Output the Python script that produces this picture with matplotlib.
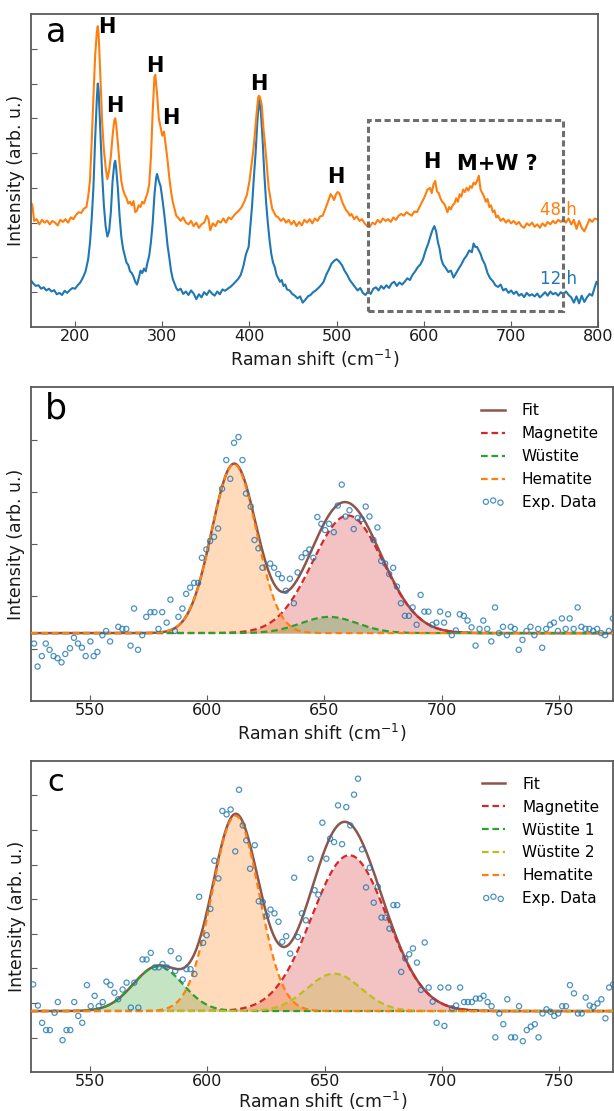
import numpy as np
import matplotlib
matplotlib.use("Agg")
import matplotlib.pyplot as plt
from matplotlib.patches import Rectangle

# ---------------- Panel a: Raman spectra (x cm^-1, intensity arb.) ----------------
spec_12h = [
    (150, 0.32), (152, 0.25), (155, 0.18), (158, 0.2), (161, 0.1), (164, 0.14), (167, 0.05), (170, 0.1),
    (173, 0.02), (176, 0.06), (179, -0.06), (182, -0.02), (185, -0.08), (188, 0.04), (191, -0.02), (194, 0.06),
    (197, 0.12), (200, 0.1), (203, 0.2), (206, 0.28), (209, 0.42), (212, 0.6), (215, 0.95), (217, 1.4),
    (219, 2.1), (221, 3.0), (223, 4.4), (225, 5.6), (226, 6.0), (227, 5.8), (229, 4.6), (231, 3.4),
    (233, 2.5), (235, 1.9), (237, 1.6), (239, 1.75), (241, 2.3), (243, 3.2), (245, 3.7), (246, 3.78),
    (247, 3.6), (249, 3.0), (251, 2.2), (253, 1.6), (255, 1.25), (257, 1.05), (259, 0.85), (261, 0.78),
    (263, 0.6), (265, 0.55), (267, 0.45), (269, 0.3), (271, 0.22), (273, 0.4), (275, 0.62), (277, 0.55),
    (279, 0.68), (281, 0.6), (283, 0.85), (285, 1.05), (287, 1.45), (289, 2.0), (291, 2.8), (293, 3.3),
    (294, 3.4), (296, 3.2), (298, 3.05), (300, 2.7), (302, 2.3), (304, 1.85), (306, 1.35), (308, 1.0),
    (310, 0.62), (312, 0.38), (314, 0.25), (316, 0.12), (318, 0.05), (321, 0.1), (324, -0.05), (327, 0.02),
    (330, -0.08), (333, 0.05), (336, -0.04), (339, -0.2), (342, -0.06), (345, -0.15), (348, 0.0), (351, -0.08),
    (354, 0.05), (357, -0.04), (360, -0.1), (363, 0.02), (366, -0.06), (369, 0.08), (372, 0.04), (375, 0.1),
    (378, 0.15), (381, 0.22), (384, 0.3), (387, 0.38), (390, 0.5), (393, 0.75), (396, 1.1), (399, 1.3),
    (401, 1.9), (403, 2.5), (405, 3.3), (407, 4.0), (409, 4.9), (411, 5.55), (413, 5.2), (415, 4.4),
    (417, 3.4), (419, 2.6), (421, 2.0), (423, 1.5), (425, 1.1), (427, 0.85), (429, 0.72), (431, 0.5),
    (433, 0.4), (435, 0.3), (437, 0.35), (439, 0.18), (441, 0.22), (443, 0.08), (446, 0.05), (449, -0.05),
    (452, -0.1), (455, -0.18), (458, -0.12), (461, -0.3), (464, -0.22), (467, -0.12), (470, -0.08), (473, 0.0),
    (476, 0.05), (479, 0.12), (482, 0.2), (485, 0.3), (488, 0.5), (491, 0.65), (494, 0.82), (497, 0.9),
    (500, 0.95), (503, 0.88), (506, 0.78), (509, 0.62), (512, 0.5), (515, 0.35), (518, 0.25), (521, 0.15),
    (524, 0.05), (527, 0.12), (530, -0.02), (533, -0.08), (536, 0.02), (539, -0.05), (542, 0.1), (545, 0.14),
    (548, 0.05), (551, 0.18), (554, 0.1), (557, 0.2), (560, 0.12), (563, 0.25), (566, 0.3), (569, 0.18),
    (572, 0.28), (575, 0.22), (578, 0.3), (581, 0.4), (584, 0.35), (587, 0.5), (590, 0.6), (593, 0.72),
    (596, 0.8), (599, 0.95), (602, 1.2), (605, 1.4), (608, 1.65), (610, 1.8), (612, 1.9), (614, 1.75),
    (616, 1.45), (618, 1.25), (620, 0.95), (622, 0.8), (625, 0.7), (628, 0.58), (631, 0.62), (634, 0.42),
    (637, 0.55), (640, 0.68), (643, 0.8), (646, 0.95), (649, 1.05), (652, 1.2), (655, 1.15), (657, 1.4),
    (659, 1.3), (661, 1.3), (663, 1.2), (665, 1.1), (667, 0.95), (670, 0.8), (673, 0.55), (676, 0.4),
    (679, 0.32), (682, 0.2), (685, 0.15), (688, 0.22), (691, 0.05), (694, 0.1), (697, -0.02), (700, 0.05),
    (703, -0.05), (706, 0.02), (709, -0.1), (712, -0.05), (715, -0.14), (718, -0.02), (721, -0.1), (724, -0.06),
    (727, -0.12), (730, -0.04), (733, -0.15), (736, -0.08), (739, 0.0), (742, -0.1), (745, 0.02), (748, -0.06),
    (751, -0.02), (754, -0.1), (757, 0.0), (760, -0.06), (763, 0.02), (766, -0.08), (769, -0.15), (772, -0.3),
    (775, -0.12), (778, -0.32), (781, -0.1), (784, -0.28), (787, -0.15), (790, -0.05), (793, -0.1), (796, 0.15),
    (798, 0.3), (800, 0.2),
]

spec_48h = [
    (150, 2.55), (151, 2.5), (153, 2.05), (156, 2.1), (159, 1.95), (162, 2.08), (165, 2.0), (168, 2.06),
    (171, 1.95), (174, 2.05), (177, 2.0), (180, 1.92), (183, 2.08), (186, 2.02), (189, 2.1), (192, 2.0),
    (195, 2.15), (198, 2.1), (201, 2.22), (204, 2.3), (207, 2.28), (210, 2.4), (213, 2.45), (215, 2.75),
    (217, 3.2), (219, 4.3), (221, 5.6), (223, 6.8), (225, 7.5), (226, 7.65), (227, 7.4), (229, 6.2),
    (231, 4.9), (233, 4.1), (235, 3.6), (237, 3.25), (239, 3.5), (241, 3.9), (243, 4.5), (245, 4.95),
    (246, 5.0), (247, 4.85), (249, 4.3), (251, 3.7), (253, 3.2), (255, 2.95), (257, 2.8), (259, 2.7),
    (261, 2.55), (263, 2.6), (265, 2.5), (267, 2.62), (269, 2.3), (271, 2.35), (273, 2.5), (275, 2.45),
    (277, 2.6), (279, 2.55), (281, 2.7), (283, 2.85), (285, 3.1), (287, 3.9), (289, 5.2), (291, 6.2),
    (292, 6.25), (294, 5.7), (296, 5.0), (298, 4.75), (300, 4.5), (302, 4.62), (304, 4.2), (306, 3.8),
    (308, 3.3), (310, 2.9), (312, 2.6), (314, 2.4), (316, 2.2), (318, 2.15), (321, 2.05), (324, 2.15),
    (327, 2.0), (330, 1.95), (333, 2.05), (336, 1.9), (339, 2.0), (342, 1.85), (345, 1.95), (348, 2.0),
    (351, 2.2), (353, 2.1), (355, 1.78), (358, 1.98), (361, 1.9), (364, 2.05), (367, 2.0), (370, 2.12),
    (373, 2.0), (376, 2.15), (379, 2.1), (382, 2.2), (385, 2.28), (388, 2.35), (391, 2.45), (394, 2.6),
    (397, 2.8), (400, 3.2), (402, 3.6), (404, 4.0), (406, 4.5), (408, 5.1), (410, 5.6), (411, 5.65),
    (412, 5.6), (414, 5.4), (416, 4.7), (418, 4.2), (420, 3.6), (422, 3.0), (424, 2.7), (426, 2.4),
    (428, 2.3), (430, 2.2), (433, 2.15), (436, 2.05), (439, 2.12), (442, 2.0), (445, 2.08), (448, 1.95),
    (451, 2.05), (454, 1.9), (457, 2.02), (460, 1.92), (463, 2.08), (466, 2.0), (469, 2.1), (472, 1.98),
    (475, 2.12), (478, 2.05), (481, 2.18), (484, 2.2), (487, 2.4), (490, 2.6), (493, 2.82), (495, 2.75),
    (497, 2.65), (499, 2.8), (501, 2.88), (503, 2.85), (505, 2.7), (507, 2.55), (509, 2.45), (511, 2.35),
    (513, 2.3), (515, 2.2), (517, 2.25), (520, 2.1), (523, 2.18), (526, 2.05), (529, 2.1), (532, 1.98),
    (535, 1.9), (538, 1.88), (541, 2.0), (544, 1.95), (547, 2.08), (550, 2.0), (553, 2.12), (556, 2.05),
    (559, 2.1), (562, 2.02), (565, 2.15), (568, 2.08), (571, 2.2), (574, 2.25), (577, 2.2), (580, 2.3),
    (583, 2.25), (586, 2.2), (589, 2.32), (592, 2.3), (595, 2.45), (598, 2.6), (601, 2.75), (604, 2.95),
    (607, 3.0), (609, 2.85), (611, 3.1), (613, 3.2), (615, 2.9), (617, 2.85), (619, 2.7), (621, 2.6),
    (623, 2.55), (625, 2.45), (627, 2.3), (629, 2.45), (631, 2.38), (633, 2.5), (635, 2.55), (637, 2.7),
    (639, 2.6), (641, 2.82), (643, 2.75), (645, 2.95), (647, 2.88), (649, 3.0), (651, 2.92), (653, 3.05),
    (655, 3.0), (657, 3.15), (659, 3.1), (661, 3.2), (663, 3.35), (665, 2.95), (667, 2.85), (669, 2.75),
    (671, 2.6), (673, 2.68), (675, 2.45), (677, 2.5), (679, 2.3), (681, 2.35), (683, 2.15), (685, 2.2),
    (688, 2.05), (691, 2.12), (694, 2.0), (697, 2.08), (700, 1.98), (703, 2.05), (706, 1.95), (709, 2.02),
    (712, 1.9), (715, 1.85), (718, 1.98), (721, 1.92), (724, 2.0), (727, 1.88), (730, 1.95), (733, 1.85),
    (736, 1.98), (739, 1.9), (742, 2.02), (745, 1.95), (748, 2.05), (751, 1.98), (754, 2.08), (757, 2.02),
    (760, 2.1), (763, 2.0), (766, 2.12), (769, 1.95), (772, 2.08), (775, 1.82), (778, 2.05), (781, 1.85),
    (784, 1.75), (787, 1.92), (790, 2.1), (793, 2.02), (796, 2.12), (800, 2.08),
]

peak_labels = ["H", "H", "H", "H", "H", "H", "H", "M+W ?"]
peak_label_x = [236.2, 246.1, 291.4, 309.8, 410.3, 498.7, 608.7, 684.6]
peak_label_y = [7.64, 5.34, 6.51, 5.0, 5.99, 3.30, 3.73, 3.70]

# ---------------- Panel b: experimental points ----------------
data_b = [
    (526.3, 0.10), (527.8, -0.34), (529.6, -0.14), (531.3, 0.10), (532.9, -0.02), (534.6, -0.14),
    (536.3, -0.18), (538.0, -0.26), (539.6, -0.10), (541.6, 0.01), (543.3, 0.21), (545.0, 0.10),
    (546.7, 0.02), (548.3, -0.14), (550.3, 0.14), (551.7, -0.14), (553.3, -0.06), (555.4, 0.26),
    (557.0, 0.34), (558.7, 0.14), (562.2, 0.42), (563.9, 0.38), (565.6, 0.38), (567.4, 0.06),
    (568.9, 0.77), (570.6, -0.02), (572.4, 0.26), (574.1, 0.61), (575.9, 0.70), (577.6, 0.70),
    (579.3, 0.38), (580.9, 0.70), (582.8, 0.50), (584.4, 0.94), (586.3, 0.34), (587.8, 0.61),
    (589.5, 0.77), (591.1, 1.05), (592.8, 1.17), (594.5, 1.26), (596.2, 1.26), (597.8, 1.74),
    (599.7, 1.90), (601.3, 2.06), (603.0, 2.14), (604.7, 2.30), (606.4, 3.06), (608.2, 3.61),
    (609.9, 3.25), (611.5, 3.94), (613.4, 4.05), (615.1, 3.61), (616.6, 2.97), (618.6, 2.72),
    (620.2, 2.08), (621.9, 1.92), (623.6, 1.55), (626.9, 1.63), (628.6, 1.55), (630.3, 1.43),
    (631.9, 1.35), (633.6, 1.11), (635.3, 1.34), (637.0, 0.87), (638.6, 1.46), (640.3, 1.75),
    (642.0, 1.83), (643.6, 1.90), (645.3, 1.74), (647.0, 2.52), (648.7, 2.39), (650.3, 2.27),
    (652.0, 2.39), (654.0, 2.23), (655.7, 2.74), (657.4, 3.14), (659.0, 2.53), (660.7, 2.65),
    (662.5, 2.29), (664.2, 2.50), (665.9, 2.48), (667.6, 2.72), (669.2, 2.53), (670.9, 2.08),
    (672.6, 2.32), (674.2, 1.68), (675.9, 1.63), (677.6, 1.43), (679.3, 1.55), (680.9, 1.19),
    (682.6, 0.87), (684.3, 0.63), (686.0, 0.63), (687.6, 0.79), (689.3, 0.46), (691.0, 1.03),
    (692.6, 0.71), (694.3, 0.71), (696.0, 0.46), (697.7, 0.50), (699.3, 0.71), (701.0, 0.50),
    (702.7, 0.66), (704.3, 0.26), (706.0, 0.35), (707.7, 0.66), (709.4, 0.63), (711.0, 0.54),
    (712.7, 0.41), (714.4, 0.06), (716.1, 0.38), (717.7, 0.54), (719.4, 0.38), (721.1, 0.14),
    (722.7, 0.79), (724.4, 0.30), (726.1, 0.42), (727.8, 0.26), (729.4, 0.42), (731.1, 0.38),
    (732.8, -0.02), (734.4, 0.17), (736.1, 0.34), (737.8, 0.42), (739.5, 0.26), (741.1, 0.38),
    (742.8, 0.02), (744.5, 0.38), (746.2, 0.46), (747.8, 0.50), (749.5, 0.34), (751.2, 0.58),
    (752.8, 0.38), (754.5, 0.58), (756.2, 0.38), (757.9, 0.79), (759.5, 0.42), (761.2, 0.38),
    (762.9, 0.38), (764.5, 0.34), (766.2, 0.38), (767.9, 0.30), (769.6, 0.26), (771.2, 0.34),
    (772.9, 0.58),
]
# fit components for b: Magnetite, Wustite, Hematite (center, sigma, amplitude)
b_names = ["Magnetite", "Wüstite", "Hematite"]
b_centers = [660.0, 652.0, 611.5]
b_sigmas = [15.0, 12.0, 9.5]
b_amps = [2.25, 0.31, 3.23]
b_baseline = 0.30

# ---------------- Panel c: experimental points ----------------
data_c = [
    (525.8, 1.54), (527.8, 0.93), (529.6, 0.43), (531.3, 0.22), (532.9, 0.22), (534.9, 0.72),
    (536.3, 1.03), (538.3, -0.07), (540.0, 0.22), (541.6, 0.22), (543.3, 1.03), (545.0, 0.63),
    (546.7, 0.43), (548.7, 1.52), (550.3, 0.91), (552.0, 1.21), (553.7, 0.91), (555.4, 1.03),
    (557.0, 1.62), (558.7, 1.52), (560.4, 1.30), (562.0, 1.11), (563.9, 1.39), (565.6, 1.59),
    (567.4, 0.87), (568.9, 1.59), (570.6, 0.87), (572.4, 2.26), (574.1, 2.26), (575.9, 2.45),
    (577.6, 2.03), (579.3, 2.03), (580.9, 2.13), (582.8, 2.03), (584.4, 2.50), (586.3, 1.93),
    (587.8, 2.29), (589.5, 1.68), (591.1, 1.98), (592.8, 1.98), (594.5, 1.84), (596.5, 4.07),
    (598.2, 2.74), (599.7, 2.96), (601.3, 3.72), (603.0, 5.11), (604.7, 4.60), (606.4, 6.55),
    (608.2, 6.45), (609.9, 6.59), (611.9, 5.38), (613.5, 7.16), (615.1, 6.13), (616.6, 5.70),
    (618.2, 4.88), (620.2, 5.56), (621.9, 3.94), (623.6, 3.92), (625.3, 3.52), (626.9, 3.70),
    (628.6, 3.59), (630.3, 3.35), (631.9, 2.77), (633.6, 2.93), (635.3, 2.43), (637.0, 4.62),
    (638.6, 2.91), (640.3, 3.59), (642.0, 3.39), (644.0, 5.17), (645.7, 4.26), (647.3, 4.13),
    (649.0, 6.21), (650.7, 5.17), (652.3, 5.75), (654.0, 5.65), (655.7, 6.71), (657.4, 5.59),
    (659.2, 6.66), (660.9, 6.13), (662.5, 7.02), (664.2, 7.48), (665.9, 5.44), (667.6, 4.34),
    (669.2, 4.91), (670.9, 3.90), (672.6, 4.36), (674.2, 3.47), (675.9, 3.47), (677.6, 3.15),
    (679.3, 3.83), (680.9, 3.83), (682.6, 1.90), (684.3, 2.29), (686.0, 2.41), (687.6, 2.58),
    (689.3, 2.17), (691.0, 1.38), (692.6, 2.75), (694.3, 1.45), (696.0, 1.04), (697.7, 0.43),
    (699.3, 1.45), (701.0, 0.34), (702.7, 1.45), (704.3, 0.85), (706.0, 0.93), (707.7, 1.45),
    (709.4, 1.03), (711.0, 1.03), (712.7, 1.03), (714.4, 1.13), (716.1, 1.13), (717.7, 1.21),
    (719.4, 1.03), (721.1, 0.91), (722.7, 0.01), (724.4, 0.70), (726.1, 0.39), (727.8, 1.11),
    (729.4, 0.01), (731.1, 0.01), (732.8, 0.91), (734.4, -0.10), (736.1, 0.22), (737.8, 0.32),
    (739.5, 0.39), (741.1, 0.01), (742.8, 0.70), (744.5, 0.82), (746.2, 0.75), (747.8, 0.63),
    (749.5, 0.70), (751.2, 0.91), (752.8, 0.91), (754.5, 1.52), (756.2, 1.28), (757.9, 0.70),
    (759.5, 0.70), (761.2, 1.16), (762.9, 0.93), (764.5, 0.89), (766.2, 0.99), (767.9, 1.11),
    (769.6, 0.56), (771.2, 1.45), (772.9, 1.54),
]
c_names = ["Magnetite", "Wüstite 1", "Wüstite 2", "Hematite"]
c_centers = [660.5, 579.0, 654.0, 612.0]
c_sigmas = [16.0, 10.5, 11.5, 10.0]
c_amps = [4.50, 1.29, 1.08, 5.64]
c_baseline = 0.77

comp_colors = {"Magnetite": "#d62728", "Wüstite": "#2ca02c", "Wüstite 1": "#2ca02c",
               "Wüstite 2": "#bcbd22", "Hematite": "#ff7f0e"}

# ---------------- styling ----------------
plt.rcParams['font.family'] = ['DejaVu Sans']
plt.rcParams['mathtext.default'] = 'regular'
SPINE = '#5a5a5a'
BLUE = '#1f77b4'
ORANGE = '#ff7f0e'
FIT = '#8c564b'

fig = plt.figure(figsize=(6.14, 11.11), dpi=100)


def style_axes(ax, xticks, yticks, labelpad=2):
    for s in ax.spines.values():
        s.set_color(SPINE)
        s.set_linewidth(1.3)
    ax.set_xticks(xticks)
    ax.set_yticks(yticks)
    ax.set_yticklabels([])
    ax.tick_params(direction='in', length=4, width=0.8, color=SPINE,
                   labelsize=11.5, pad=1.5, labelcolor='#1a1a1a')
    ax.set_xlabel('Raman shift (cm$^{-1}$)', fontsize=12.5, labelpad=labelpad, color='#1a1a1a')
    ax.set_ylabel('Intensity (arb. u.)', fontsize=12.5, color='#1a1a1a')


def gauss(x, c, s, a):
    return a * np.exp(-(x - c) ** 2 / (2 * s ** 2))


# ---------------- Panel a ----------------
axa = fig.add_axes([0.0513, 0.7057, 0.9231, 0.2817])
x12, y12 = zip(*spec_12h)
x48, y48 = zip(*spec_48h)
axa.plot(x12, y12, color=BLUE, lw=1.5)
axa.plot(x48, y48, color=ORANGE, lw=1.5)
axa.set_xlim(150, 800)
axa.set_ylim(-1, 8)
style_axes(axa, [200, 300, 400, 500, 600, 700, 800], list(range(0, 8)), labelpad=3)
axa.yaxis.set_label_coords(-0.0108, 0.5)
for lab, lx, ly in zip(peak_labels, peak_label_x, peak_label_y):
    axa.text(lx, ly, lab, fontsize=15, fontweight='bold', ha='center', va='center', color='black')
axa.text(754.6, 2.36, '48 h', fontsize=12, color=ORANGE, ha='center', va='center')
axa.text(754.6, 0.37, '12 h', fontsize=12, color=BLUE, ha='center', va='center')
axa.add_patch(Rectangle((535.5, -0.53), 224.5, 5.49, fill=False, ec='#6e6e6e',
                        lw=2.2, ls=(0, (2.0, 1.1)), zorder=3))
axa.text(0.043, 0.941, 'a', transform=axa.transAxes, fontsize=24, ha='center', va='center')

# ---------------- Panels b, c ----------------
xfit = np.linspace(525, 775, 800)


def fit_panel(ax, data, names, centers, sigmas, amps, base, letter, lsize, lpos, lab_pad):
    comps = [gauss(xfit, c, s, a) for c, s, a in zip(centers, sigmas, amps)]
    total = base + np.sum(comps, axis=0)
    ax.plot(xfit, total, color=FIT, lw=1.8, label='Fit', zorder=3)
    for name, comp in zip(names, comps):
        col = comp_colors[name]
        ax.fill_between(xfit, base, base + comp, color=col, alpha=0.28, lw=0, zorder=1)
        ax.plot(xfit, base + comp, color=col, lw=1.6, ls=(0, (3.0, 1.7)), label=name, zorder=4)
    dx, dy = zip(*data)
    ax.scatter(dx, dy, s=14, facecolors='none', edgecolors=BLUE, linewidths=0.9,
               alpha=0.8, label='Exp. Data', zorder=5)
    ax.set_xlim(525, 773)
    style_axes(ax, [550, 600, 650, 700, 750], [], labelpad=lab_pad)
    ax.yaxis.set_label_coords(-0.0096, 0.5)
    ax.legend(loc='upper left', bbox_to_anchor=(0.750, 0.993), frameon=False, fontsize=11,
              handlelength=1.55, handletextpad=1.1, labelspacing=0.52, borderpad=0.4,
              scatterpoints=3, scatteryoffsets=[0.5, 0.62, 0.42])
    ax.text(lpos[0], lpos[1], letter, transform=ax.transAxes, fontsize=lsize, ha='center', va='center')


axb = fig.add_axes([0.0505, 0.3690, 0.9480, 0.2823])
axb.set_ylim(-1, 5)
fit_panel(axb, data_b, b_names, b_centers, b_sigmas, b_amps, b_baseline, 'b', 25, (0.043, 0.933), 3)
axb.set_yticks([0, 1, 2, 3, 4])
axb.set_yticklabels([])

axc = fig.add_axes([0.0510, 0.0348, 0.9480, 0.2805])
axc.set_ylim(-1, 8)
fit_panel(axc, data_c, c_names, c_centers, c_sigmas, c_amps, c_baseline, 'c', 22, (0.042, 0.931), 0.5)
axc.set_yticks(list(range(0, 8)))
axc.set_yticklabels([])

fig.savefig('out.png', dpi=100)
